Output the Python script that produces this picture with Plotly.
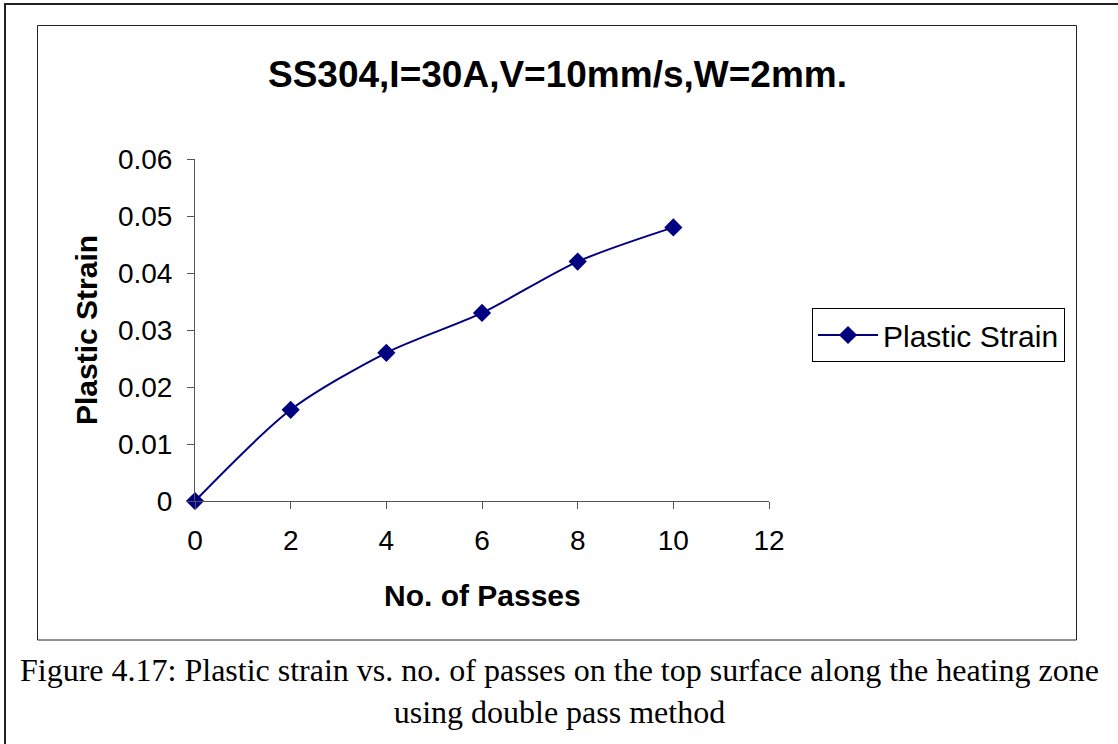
import plotly.graph_objects as go

passes = [0, 2, 4, 6, 8, 10]
strain = [0.0, 0.016, 0.026, 0.033, 0.042, 0.048]
x_ticks = [0, 2, 4, 6, 8, 10, 12]
y_ticks = [0, 0.01, 0.02, 0.03, 0.04, 0.05, 0.06]
y_labels = ["0", "0.01", "0.02", "0.03", "0.04", "0.05", "0.06"]

W, H = 1118, 744
def px(x): return x / W
def py(y): return 1 - y / H

fig = go.Figure()
fig.add_trace(go.Scatter(
    x=passes, y=strain, mode="lines+markers", name="Plastic Strain",
    line=dict(color="#000080", width=2, shape="spline", smoothing=0.8),
    marker=dict(symbol="diamond", size=14, color="#000080"),
    cliponaxis=False,
))

sans = "Liberation Sans, Arial"
fig.update_layout(
    template="none",
    width=W, height=H, autosize=False,
    margin=dict(l=0, r=0, t=0, b=0, pad=0, autoexpand=False),
    paper_bgcolor="white", plot_bgcolor="white",
    showlegend=True,
    legend=dict(x=px(812), y=py(308), xanchor="left", yanchor="top",
                bordercolor="black", borderwidth=1, bgcolor="white",
                font=dict(family=sans, size=30, color="black"),
                itemwidth=60, tracegroupgap=0),
    xaxis=dict(domain=[px(195), px(769)], range=[0, 12], tickvals=x_ticks,
               ticks="outside", ticklen=7, tickcolor="#555", showline=True,
               linecolor="#555", linewidth=1, showgrid=False, zeroline=False,
               tickfont=dict(family=sans, size=28, color="black"),
               ticklabelstandoff=7, fixedrange=True, automargin=False),
    yaxis=dict(domain=[py(501), py(159)], range=[0, 0.06], tickvals=y_ticks,
               ticktext=y_labels, ticks="outside", ticklen=7, tickcolor="#555",
               showline=True, linecolor="#555", linewidth=1, showgrid=False,
               zeroline=False, tickfont=dict(family=sans, size=28, color="black"),
               ticklabelstandoff=9, fixedrange=True, automargin=False),
    shapes=[
        dict(type="rect", xref="paper", yref="paper", x0=px(5), x1=px(1130),
             y0=py(4), y1=py(760), line=dict(color="#222", width=2)),
        dict(type="rect", xref="paper", yref="paper", x0=px(37.5), x1=px(1076.5),
             y0=py(25.5), y1=py(640), line=dict(color="#222", width=1)),
    ],
    annotations=[
        dict(text="<b>SS304,I=30A,V=10mm/s,W=2mm.</b>", xref="paper", yref="paper",
             x=px(557), y=py(74), xanchor="center", yanchor="middle", showarrow=False,
             font=dict(family=sans, size=37, color="black")),
        dict(text="<b>No. of Passes</b>", xref="paper", yref="paper",
             x=px(482), y=py(595), xanchor="center", yanchor="middle", showarrow=False,
             font=dict(family=sans, size=30, color="black")),
        dict(text="<b>Plastic Strain</b>", xref="paper", yref="paper", textangle=-90,
             x=px(86), y=py(330), xanchor="center", yanchor="middle", showarrow=False,
             font=dict(family=sans, size=30, color="black")),
        dict(text="Figure 4.17: Plastic strain vs. no. of passes on the top surface along the heating zone<br>using double pass method",
             xref="paper", yref="paper", x=px(559.5), y=py(691), xanchor="center",
             yanchor="middle", showarrow=False, align="center",
             font=dict(family="Liberation Serif, Times New Roman", size=32, color="black")),
    ],
)
fig.write_html("out.html", config={"displayModeBar": False},
               post_script="document.body.style.margin='0';document.body.style.overflow='hidden';")
